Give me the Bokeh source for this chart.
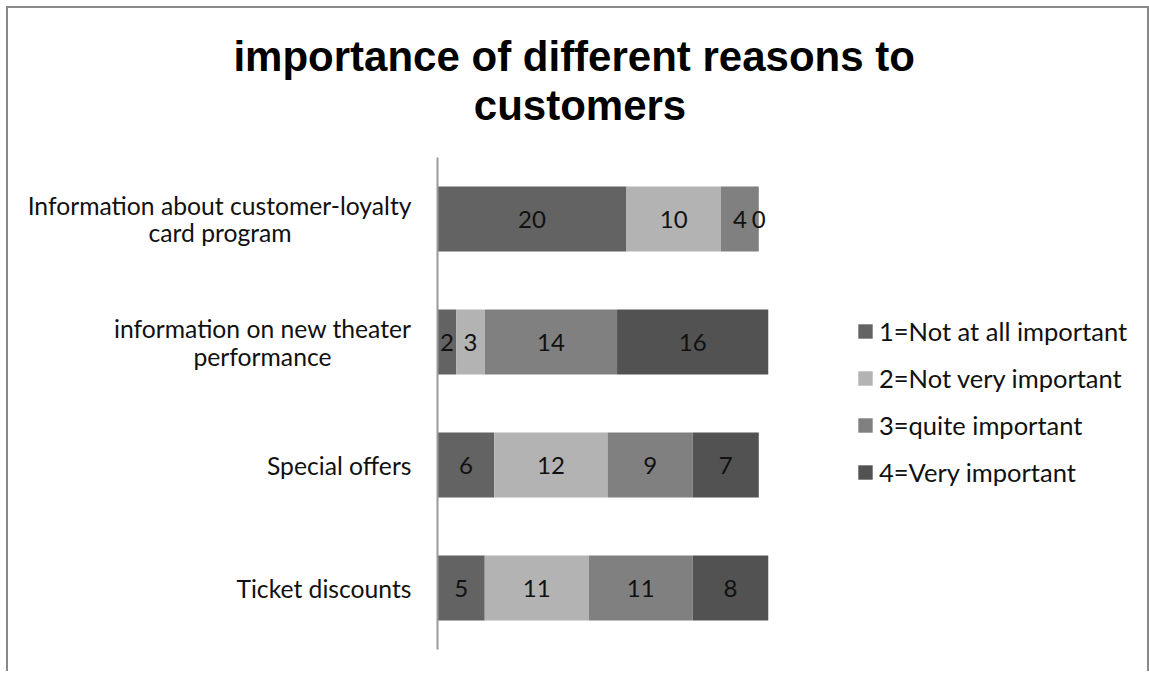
from bokeh.plotting import figure
from bokeh.models import Range1d, FactorRange, Legend, LegendItem, Title, ColumnDataSource
from bokeh.core.properties import value
from bokeh.embed import file_html
from bokeh.resources import INLINE

# ---- data ----
categories = [
    "Information about customer-loyalty card program",
    "information on new theater performance",
    "Special offers",
    "Ticket discounts",
]
label_line1 = ["Information about customer-loyalty", "information on new theater", "Special offers", "Ticket discounts"]
label_line2 = ["card program", "performance", "", ""]
series_names = [
    "1=Not at all important",
    "2=Not very important",
    "3=quite important",
    "4=Very important",
]
not_at_all = [20, 2, 6, 5]
not_very = [10, 3, 12, 11]
quite = [4, 14, 9, 11]
very = [0, 16, 7, 8]
colors = ["#636363", "#b3b3b3", "#808080", "#525252"]
title_line1 = "importance of different reasons  to"
title_line2 = "customers"

series = [not_at_all, not_very, quite, very]
keys = ["s1", "s2", "s3", "s4"]
n = len(categories)

# ---- layout constants (pixels) ----
W, H = 1143, 665         # canvas size
AX = 429                 # x position of the category axis
FT = 125                 # frame top
PAD_PX = 24              # space between bars region and frame edge
CAT_PX = (H - FT - 2 * PAD_PX) / n
PX_PER_UNIT = 9.45
STANDOFF = 26
LINE_OFF = 14
LINE1_WIDTH = [383, 298, 0, 0]     # used to centre the second line under the first
LABEL_FONT = "24.7px"

src = ColumnDataSource(dict(cat=categories, s1=not_at_all, s2=not_very, s3=quite, s4=very))

p = figure(
    width=W, height=H,
    y_range=FactorRange(factors=categories[::-1], range_padding=2 * (PAD_PX / CAT_PX) / n),
    x_range=Range1d(-AX / PX_PER_UNIT, (W - AX) / PX_PER_UNIT),
    output_backend="svg", toolbar_location=None,
    x_axis_location=None, y_axis_location=None,
    min_border_left=0, min_border_top=FT, min_border_bottom=0, min_border_right=0,
    title=None,
)
p.styles = {
    "margin-left": "6px",
    "margin-top": "6px",
    "border-left": "2px solid #898989",
    "border-top": "2px solid #898989",
    "border-right": "2px solid #898989",
}
p.outline_line_color = None
p.xgrid.visible = False
p.ygrid.visible = False
p.background_fill_color = "white"
p.border_fill_color = "white"

renderers = p.hbar_stack(keys, y="cat", height=0.53, color=colors, line_color=None, source=src)

# category axis line
p.segment(x0=[0], y0=[(categories[-1], -0.5)], x1=[0], y1=[(categories[0], 0.5)],
          line_color="#9a9a9a", line_width=2)

# data labels
lx, ly, lt = [], [], []
for i, c in enumerate(categories):
    left = 0
    for s in series:
        v = s[i]
        lx.append(left + v / 2)
        ly.append(c)
        lt.append(str(v))
        left += v
p.text(x=lx, y=ly, text=lt, text_align="center", text_baseline="middle",
       text_font=value("Lato"), text_font_size="24px", text_color="#111111")

# category labels
two = [bool(l2) for l2 in label_line2]
off = LINE_OFF / CAT_PX
src1 = ColumnDataSource(dict(
    x=[0] * n,
    y=[(c, off if t else 0.0) for c, t in zip(categories, two)],
    t=label_line1,
))
p.text(x="x", y="y", text="t", source=src1, x_offset=-STANDOFF,
       text_align="right", text_baseline="middle",
       text_font=value("Lato"), text_font_size=LABEL_FONT, text_color="#111111")
idx2 = [i for i, t in enumerate(two) if t]
src2 = ColumnDataSource(dict(
    x=[0] * len(idx2),
    y=[(categories[i], -off) for i in idx2],
    t=[label_line2[i] for i in idx2],
    xo=[-(STANDOFF + LINE1_WIDTH[i] / 2) for i in idx2],
))
p.text(x="x", y="y", text="t", source=src2, x_offset="xo",
       text_align="center", text_baseline="middle",
       text_font=value("Lato"), text_font_size=LABEL_FONT, text_color="#111111")

legend = Legend(
    items=[LegendItem(label=nm, renderers=[r]) for nm, r in zip(series_names, renderers)],
    location=(848, 186),
    label_text_font="Lato", label_text_font_size="25.5px", label_text_color="#111111",
    glyph_width=18, glyph_height=18, label_standoff=5, spacing=17, label_height=24,
    padding=0, margin=0, border_line_color=None, background_fill_alpha=0,
)
p.add_layout(legend)

t2 = Title(text=title_line2, align="center", standoff=10,
           text_font="Liberation Sans", text_font_style="bold", text_font_size="42px", text_color="black")
t1 = Title(text=title_line1, align="center", standoff=-10,
           text_font="Liberation Sans", text_font_style="bold", text_font_size="42px", text_color="black")
p.add_layout(t2, "above")
p.add_layout(t1, "above")

open("out.html", "w").write(file_html(p, INLINE))
